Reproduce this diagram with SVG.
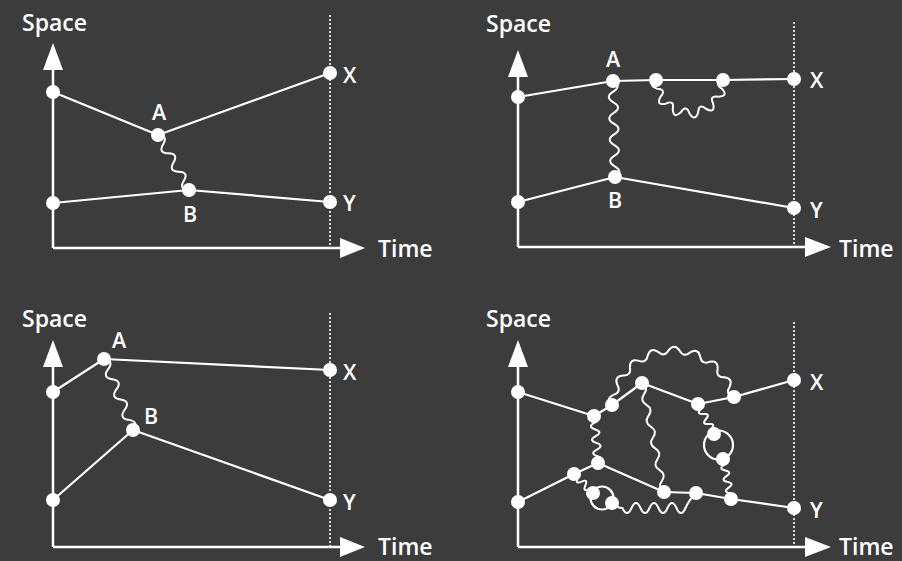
<svg xmlns="http://www.w3.org/2000/svg" width="902" height="561" viewBox="0 0 902 561">
<style>
.bg{fill:#3c3c3c}
.ax{stroke:#fff;stroke-width:2.5;fill:none}
.ah{fill:#fff}
.dot{stroke:#fff;stroke-width:1.6;stroke-dasharray:2 2;fill:none}
.ln{stroke:#fff;stroke-width:2.2;fill:none;stroke-linejoin:round}
.wv{stroke:#fff;stroke-width:2;fill:none;stroke-linejoin:round;stroke-linecap:round}
.nd{fill:#fff}
.t{font-family:"Open Sans","DejaVu Sans",sans-serif;font-weight:600;fill:#fff}
.big{font-size:23px}
.lb{font-size:21.5px}
</style>
<rect class="bg" x="0" y="0" width="902" height="561"/>

<g id="axes">
  <path class="dot" d="M330,15V248 M794,22V247 M330,313V547 M794,322V547"/>
  <path class="ax" d="M53,248V68 M53,248H342 M518,247V75 M518,247H807 M53,547V365 M53,547H342 M518,547V365 M518,547H807"/>
  <polygon class="ah" points="43,70 53,43 63,70"/>
  <polygon class="ah" points="340,238 365,248 340,258"/>
  <polygon class="ah" points="508,77 518,50 528,77"/>
  <polygon class="ah" points="805,237 831,247 805,257"/>
  <polygon class="ah" points="43,367 53,340 63,367"/>
  <polygon class="ah" points="340,537 365,547 340,557"/>
  <polygon class="ah" points="508,367 518,340 528,367"/>
  <polygon class="ah" points="805,537 831,547 805,557"/>
  <text class="t big" x="22" y="31">Space</text>
  <text class="t big" x="378" y="257">Time</text>
  <text class="t big" x="486" y="32">Space</text>
  <text class="t big" x="839" y="257">Time</text>
  <text class="t big" x="22" y="327">Space</text>
  <text class="t big" x="378" y="555">Time</text>
  <text class="t big" x="486" y="327">Space</text>
  <text class="t big" x="839" y="555">Time</text>
</g>

<g id="connectors">
  <!-- panel 1 -->
  <polyline class="ln" points="53,92 158,135 330,73"/>
  <polyline class="ln" points="53,203 189,190 330,202"/>
  <path class="wv" transform="translate(158,135) rotate(60.6)" d="M0,0 q5.26,-9 10.52,0 t10.52,0 t10.52,0 t10.52,0 t10.52,0 t10.52,0"/>
  <!-- panel 2 -->
  <polyline class="ln" points="518,97 613,81 656,80 723,80 794,79"/>
  <polyline class="ln" points="518,202 615,177 794,208"/>
  <path class="wv" transform="translate(613,81) rotate(88.81)" d="M0,0 q5.33,-9 10.67,0 t10.67,0 t10.67,0 t10.67,0 t10.67,0 t10.67,0 t10.67,0 t10.67,0 t10.67,0"/>
  <path class="wv" d="M656,80 Q647.36,85.55 657.14,88.67 Q666.86,89.38 660.49,96.75 Q655.78,105.87 665.81,103.69 Q674.59,99.44 672.75,109.01 Q673.24,119.26 680.83,112.36 Q686.30,104.29 689.5,113.5 Q695.05,122.14 698.17,112.36 Q698.88,102.64 706.25,109.01 Q715.37,113.72 713.19,103.69 Q708.94,94.91 718.51,96.75 Q728.76,96.26 721.86,88.67 Q713.79,83.20 723,80"/>
  <!-- panel 3 -->
  <polyline class="ln" points="53,392 104,359 330,370"/>
  <polyline class="ln" points="53,500 133,430 330,500"/>
  <path class="wv" transform="translate(104,359) rotate(67.78)" d="M0,0 q5.48,-9 10.96,0 t10.96,0 t10.96,0 t10.96,0 t10.96,0 t10.96,0 t10.96,0"/>
  <!-- panel 4 -->
  <polyline class="ln" points="518,392 594,416 612,405 642,383 698,404 734,397 794,380"/>
  <polyline class="ln" points="518,502 574,474 598,463 664,492 696,493 731,499 794,508"/>
  <circle class="ln" cx="718.5" cy="445" r="14.5"/>
  <circle class="ln" cx="602" cy="498" r="11.5"/>
  <path class="wv" transform="translate(594,416) rotate(85.1)" d="M0,0 q3.37,-8 6.74,0 t6.74,0 t6.74,0 t6.74,0 t6.74,0 t6.74,0 t6.74,0"/>
  <path class="wv" transform="translate(642,383) rotate(78.6)" d="M0,0 q5.56,-6 11.12,0 t11.12,0 t11.12,0 t11.12,0 t11.12,0 t11.12,0 t11.12,0 t11.12,0 t11.12,0 t11.12,0"/>
  <path class="wv" transform="translate(698,404) rotate(61.9)" d="M0,0 q2.83,-7 5.67,0 t5.67,0 t5.67,0 t5.67,0 t5.67,0 t5.67,0"/>
  <path class="wv" transform="translate(723,459) rotate(78.7)" d="M0,0 q2.92,-7 5.83,0 t5.83,0 t5.83,0 t5.83,0 t5.83,0 t5.83,0 t5.83,0"/>
  <path class="wv" transform="translate(574,474) rotate(45)" d="M0,0 q2.69,-7 5.37,0 t5.37,0 t5.37,0 t5.37,0 t5.37,0"/>
  <path class="wv" d="M612,503 Q617,508 622.5,508 Q627,518 631.5,508 T640.5,508 T649.5,508 T658.5,508 T667.5,508 T676.5,508 T685.5,508 Q689,500 696,493"/>
  <path class="wv" d="M611.34,405.52 Q605.27,398.83 613.40,394.91 Q621.65,392.29 617.28,384.82 Q613.86,376.46 622.84,375.56 Q631.49,375.92 629.93,367.40 Q629.58,358.38 638.33,360.60 Q646.34,363.90 647.78,355.36 Q650.54,346.76 658.00,351.84 Q664.40,357.68 668.67,350.15 Q674.20,343.01 679.48,350.34 Q683.49,358.01 690.09,352.40 Q697.73,347.58 700.18,356.28 Q701.33,364.86 709.44,361.84 Q718.27,359.93 717.60,368.93 Q715.74,377.39 724.40,377.33 Q733.35,378.55 729.64,386.78 Q725.00,394.09 733.16,397.00"/>
</g>

<!-- panel 1 nodes -->
<g id="p1-start-top"><circle class="nd" cx="53" cy="92" r="7"/></g>
<g id="p1-start-bottom"><circle class="nd" cx="53" cy="203" r="7"/></g>
<g id="p1-A"><circle class="nd" cx="158" cy="135" r="7"/><text class="t lb" x="159" y="120" text-anchor="middle">A</text></g>
<g id="p1-B"><circle class="nd" cx="189" cy="190" r="7"/><text class="t lb" x="190" y="222" text-anchor="middle">B</text></g>
<g id="p1-X"><circle class="nd" cx="330" cy="73" r="7"/><text class="t lb" x="343" y="83">X</text></g>
<g id="p1-Y"><circle class="nd" cx="330" cy="202" r="7"/><text class="t lb" x="343" y="211">Y</text></g>

<!-- panel 2 nodes -->
<g id="p2-start-top"><circle class="nd" cx="518" cy="97" r="7"/></g>
<g id="p2-start-bottom"><circle class="nd" cx="518" cy="202" r="7"/></g>
<g id="p2-A"><circle class="nd" cx="613" cy="81" r="7"/><text class="t lb" x="613" y="67" text-anchor="middle">A</text></g>
<g id="p2-loop-left"><circle class="nd" cx="656" cy="80" r="7"/></g>
<g id="p2-loop-right"><circle class="nd" cx="723" cy="80" r="7"/></g>
<g id="p2-B"><circle class="nd" cx="615" cy="177" r="7"/><text class="t lb" x="615" y="208" text-anchor="middle">B</text></g>
<g id="p2-X"><circle class="nd" cx="794" cy="79" r="7"/><text class="t lb" x="810" y="88">X</text></g>
<g id="p2-Y"><circle class="nd" cx="794" cy="208" r="7"/><text class="t lb" x="810" y="218">Y</text></g>

<!-- panel 3 nodes -->
<g id="p3-start-top"><circle class="nd" cx="53" cy="392" r="7"/></g>
<g id="p3-start-bottom"><circle class="nd" cx="53" cy="500" r="7"/></g>
<g id="p3-A"><circle class="nd" cx="104" cy="359" r="7"/><text class="t lb" x="119" y="348" text-anchor="middle">A</text></g>
<g id="p3-B"><circle class="nd" cx="133" cy="430" r="7"/><text class="t lb" x="151" y="424" text-anchor="middle">B</text></g>
<g id="p3-X"><circle class="nd" cx="330" cy="370" r="7"/><text class="t lb" x="343" y="380">X</text></g>
<g id="p3-Y"><circle class="nd" cx="330" cy="500" r="7"/><text class="t lb" x="343" y="510">Y</text></g>

<!-- panel 4 nodes -->
<g id="p4-start-top"><circle class="nd" cx="518" cy="392" r="7"/></g>
<g id="p4-start-bottom"><circle class="nd" cx="518" cy="502" r="7"/></g>
<g id="p4-a"><circle class="nd" cx="594" cy="416" r="7"/></g>
<g id="p4-b"><circle class="nd" cx="612" cy="405" r="7"/></g>
<g id="p4-c"><circle class="nd" cx="642" cy="383" r="7"/></g>
<g id="p4-d"><circle class="nd" cx="698" cy="404" r="7"/></g>
<g id="p4-e"><circle class="nd" cx="734" cy="397" r="7"/></g>
<g id="p4-f"><circle class="nd" cx="714" cy="434" r="7"/></g>
<g id="p4-g"><circle class="nd" cx="723" cy="459" r="7"/></g>
<g id="p4-h"><circle class="nd" cx="598" cy="463" r="7"/></g>
<g id="p4-i"><circle class="nd" cx="574" cy="474" r="7"/></g>
<g id="p4-j"><circle class="nd" cx="593" cy="493" r="7"/></g>
<g id="p4-k"><circle class="nd" cx="612" cy="503" r="7"/></g>
<g id="p4-l"><circle class="nd" cx="664" cy="492" r="7"/></g>
<g id="p4-m"><circle class="nd" cx="696" cy="493" r="7"/></g>
<g id="p4-n"><circle class="nd" cx="731" cy="499" r="7"/></g>
<g id="p4-X"><circle class="nd" cx="794" cy="380" r="7"/><text class="t lb" x="810" y="390">X</text></g>
<g id="p4-Y"><circle class="nd" cx="794" cy="508" r="7"/><text class="t lb" x="810" y="518">Y</text></g>
</svg>
